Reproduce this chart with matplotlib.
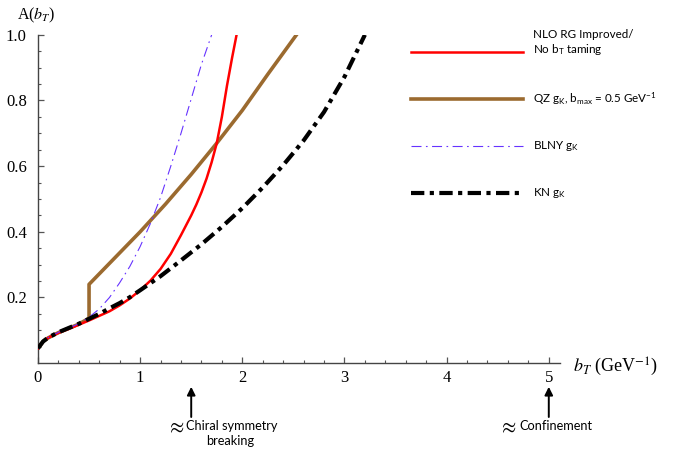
import numpy as np
import matplotlib
matplotlib.use("Agg")
import matplotlib.pyplot as plt
from matplotlib.lines import Line2D

plt.rcParams['mathtext.fontset'] = 'custom'
plt.rcParams['mathtext.rm'] = 'Lato'
plt.rcParams['mathtext.it'] = 'Lato:italic'

#%% data
b_red = [0.0, 0.02, 0.05, 0.1, 0.15, 0.2, 0.3, 0.4, 0.5, 0.6, 0.7, 0.8, 0.9, 1.0,
         1.1, 1.2, 1.3, 1.4, 1.5, 1.55, 1.6, 1.65, 1.7, 1.75, 1.8, 1.85, 1.9, 1.944]
A_red = [0.045, 0.056, 0.066, 0.077, 0.085, 0.092, 0.104, 0.117, 0.130, 0.144, 0.158,
         0.176, 0.197, 0.222, 0.251, 0.287, 0.333, 0.390, 0.450, 0.483, 0.52, 0.562,
         0.612, 0.67, 0.75, 0.845, 0.93, 1.0]

b_qz = [0.0, 0.05, 0.1, 0.2, 0.3, 0.4, 0.5, 0.5, 0.75, 1.0, 1.25, 1.5, 1.75, 2.0, 2.25, 2.53]
A_qz = [0.045, 0.066, 0.077, 0.093, 0.106, 0.119, 0.137, 0.24, 0.32, 0.40, 0.485,
        0.575, 0.67, 0.77, 0.88, 1.0]

b_blny = [0.0, 0.05, 0.1, 0.2, 0.3, 0.4, 0.5, 0.6, 0.7, 0.8, 0.9, 1.0, 1.1, 1.2,
          1.3, 1.4, 1.5, 1.6, 1.7]
A_blny = [0.045, 0.066, 0.078, 0.094, 0.107, 0.12, 0.14, 0.165, 0.2, 0.245, 0.295,
          0.355, 0.425, 0.505, 0.6, 0.7, 0.805, 0.91, 1.0]

b_kn = [0.0, 0.05, 0.1, 0.2, 0.3, 0.4, 0.5, 0.6, 0.7, 0.8, 0.9, 1.0, 1.2, 1.4, 1.6,
        1.8, 2.0, 2.2, 2.4, 2.6, 2.8, 3.0, 3.2]
A_kn = [0.045, 0.066, 0.078, 0.094, 0.107, 0.12, 0.135, 0.15, 0.167, 0.183, 0.201,
        0.222, 0.265, 0.313, 0.362, 0.415, 0.472, 0.535, 0.603, 0.678, 0.765, 0.872, 1.0]

labels = ["NLO RG Improved/\nNo b$_\\mathrm{T}$ taming",
          "QZ g$_\\mathrm{K}$, b$_\\mathrm{max}$ = 0.5 GeV$^\\mathrm{-1}$",
          "BLNY g$_\\mathrm{K}$",
          "KN g$_\\mathrm{K}$"]

scale_marks = [1.5, 5.0]
scale_names = ["Chiral symmetry\nbreaking", "Confinement"]

#%%
fig = plt.figure(figsize=(6.78, 4.5), dpi=100)
ax = fig.add_axes([0.056, 0.193, 0.770, 0.7296])

red = ax.plot(b_red, A_red, color='#ff0000', lw=1.8, zorder=3)[0]
brown = ax.plot(b_qz, A_qz, color='#9b6a2f', lw=2.6, zorder=2)[0]
blue = ax.plot(b_blny, A_blny, color='#6633ff', lw=0.8, zorder=4,
               dashes=(9, 4, 1.5, 4))[0]
black = ax.plot(b_kn, A_kn, color='black', lw=3.0, zorder=5,
                dashes=(3.2, 1.3, 1, 1.3))[0]

ax.set_xlim(0, 5.11)
ax.set_ylim(0, 1.0)
for s in ['top', 'right']:
    ax.spines[s].set_visible(False)
for s in ['left', 'bottom']:
    ax.spines[s].set_color('#444444')
    ax.spines[s].set_linewidth(1.0)

ax.set_xticks([0, 1, 2, 3, 4, 5])
ax.set_xticks(np.arange(0, 5.01, 0.2), minor=True)
ax.set_yticks([0.2, 0.4, 0.6, 0.8, 1.0])
ax.set_yticklabels(['0.2', '0.4', '0.6', '0.8', '1.0'])
ax.set_yticks(np.arange(0.05, 1.0, 0.05), minor=True)
ax.tick_params(which='both', direction='in', color='#555555', labelsize=12,
               labelfontfamily='Liberation Serif')
ax.tick_params(which='major', length=4.5, width=0.9)
ax.tick_params(which='minor', length=2.2, width=0.8)
ax.tick_params(axis='x', pad=5)
ax.tick_params(axis='y', pad=8)

ax.text(-0.04, 1.058, "A($b_T$)", transform=ax.transAxes, ha='left', va='center',
        family='Liberation Serif', fontsize=11.5, math_fontfamily='stix')
ax.text(1.025, -0.011, "$b_T$ (GeV$^{-1}$)", transform=ax.transAxes, ha='left',
        va='center', family='Liberation Serif', fontsize=13, math_fontfamily='stix')

# legend drawn by hand, as in the original
handles = [red, brown, blue, black]
leg_y = [1 - 51.7 / 450, 1 - 99 / 450, 1 - 146 / 450, 1 - 193.3 / 450]
text_y = [1 - 43 / 450, 1 - 99 / 450, 1 - 146 / 450, 1 - 193.3 / 450]
for h, ly, ty, lab in zip(handles, leg_y, text_y, labels):
    ln = Line2D([411 / 678, 523 / 678], [ly, ly], transform=fig.transFigure,
                color=h.get_color(), lw=h.get_linewidth())
    if h.get_linestyle() != '-':
        ln.set_dashes(h._unscaled_dash_pattern[1])
    fig.add_artist(ln)
    fig.text(533 / 678, ty, lab, family='Lato', fontsize=8.4, va='center',
             ha='left', linespacing=1.25)

# arrows and remarks under the axis
xt = ax.get_xaxis_transform()
approx_x = [1.252, 4.50]
name_x = [1.448, 4.716]
for xm, name, ax0, nx in zip(scale_marks, scale_names, approx_x, name_x):
    ax.annotate('', xy=(xm, -0.072), xytext=(xm, -0.164), xycoords=xt,
                textcoords=xt, annotation_clip=False,
                arrowprops=dict(arrowstyle='-|>', color='black', lw=1.4,
                                mutation_scale=12, shrinkA=0, shrinkB=0))
    lines = name.split('\n')
    ax.text(ax0, -0.193, "$\\approx$", transform=xt, ha='left', va='center',
            fontsize=15, math_fontfamily='stix', clip_on=False)
    ax.text(nx, -0.191, lines[0], transform=xt, ha='left', va='center',
            family='Lato', fontsize=9.2, clip_on=False)
    if len(lines) > 1:
        ax.text(1.879, -0.238, lines[1], transform=xt,
                ha='center', va='center', family='Lato', fontsize=9.2, clip_on=False)

fig.savefig('out.png', dpi=100)
